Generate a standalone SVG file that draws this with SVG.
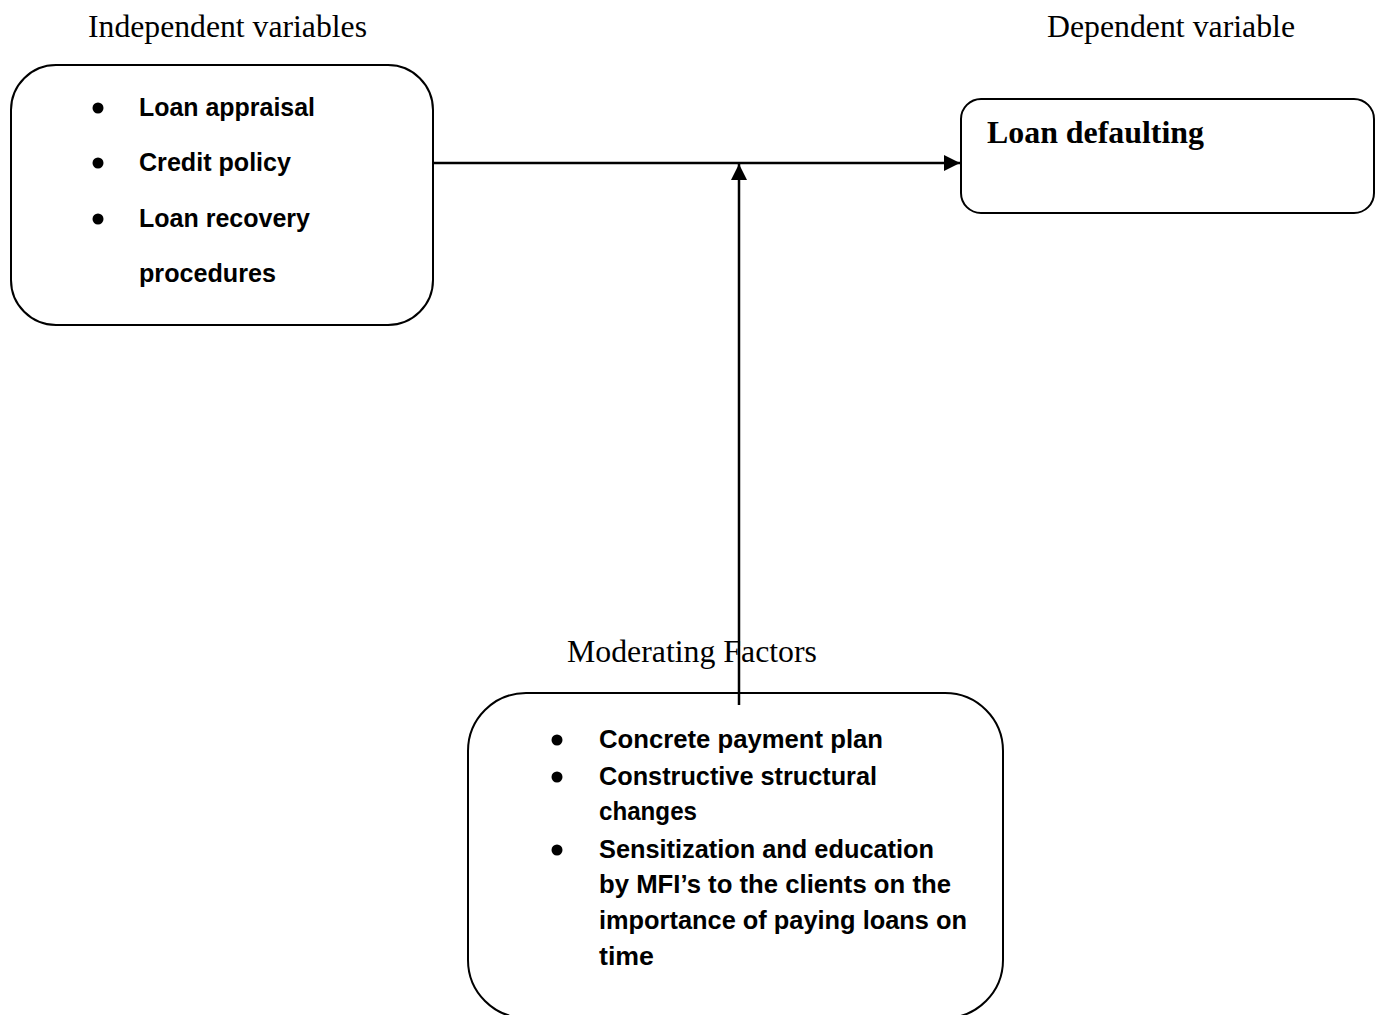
<svg xmlns="http://www.w3.org/2000/svg" width="1375" height="1015" viewBox="0 0 1375 1015">
<style>
.box{fill:#fff;stroke:#000;stroke-width:2}
.title{font-family:"Liberation Serif","Times New Roman",serif;font-size:32px;fill:#000}
.bold-serif{font-family:"Liberation Serif","Times New Roman",serif;font-size:32px;font-weight:bold;fill:#000}
.item{font-family:"Liberation Sans",Arial,sans-serif;font-size:25px;font-weight:bold;fill:#000}
.conn{stroke:#000;stroke-width:2.5;fill:none}
.bul{fill:#000}
</style>
<defs>
<marker id="arrow" viewBox="0 0 10 10" refX="10" refY="5" markerWidth="17" markerHeight="16" markerUnits="userSpaceOnUse" orient="auto">
<path d="M0,0 L10,5 L0,10 Z" fill="#000"/>
</marker>
</defs>
<rect width="1375" height="1015" fill="#fff"/>
<text class="title" x="88" y="37" textLength="279" lengthAdjust="spacingAndGlyphs">Independent variables</text>
<text class="title" x="1047" y="37" textLength="248" lengthAdjust="spacingAndGlyphs">Dependent variable</text>
<g id="independent">
<rect class="box" x="11" y="65" width="422" height="260" rx="45" ry="45"/>
<circle class="bul" cx="98" cy="108" r="5.5"/>
<text class="item" x="139" y="116" textLength="176" lengthAdjust="spacingAndGlyphs">Loan appraisal</text>
<circle class="bul" cx="98" cy="163" r="5.5"/>
<text class="item" x="139" y="171" textLength="152" lengthAdjust="spacingAndGlyphs">Credit policy</text>
<circle class="bul" cx="98" cy="219" r="5.5"/>
<text class="item" x="139" y="227" textLength="171" lengthAdjust="spacingAndGlyphs">Loan recovery</text>
<text class="item" x="139" y="282" textLength="137" lengthAdjust="spacingAndGlyphs">procedures</text>
</g>
<g id="dependent">
<rect class="box" x="961" y="99" width="413" height="114" rx="20" ry="20"/>
<text class="bold-serif" x="987" y="143" textLength="217" lengthAdjust="spacingAndGlyphs">Loan defaulting</text>
</g>
<g id="moderating">
<text class="title" x="567" y="662" textLength="250" lengthAdjust="spacingAndGlyphs">Moderating Factors</text>
<rect class="box" x="468" y="693" width="535" height="325" rx="58" ry="58"/>
<circle class="bul" cx="557" cy="740" r="5.5"/>
<text class="item" x="599" y="748" textLength="284" lengthAdjust="spacingAndGlyphs">Concrete payment plan</text>
<circle class="bul" cx="557" cy="777" r="5.5"/>
<text class="item" x="599" y="785" textLength="278" lengthAdjust="spacingAndGlyphs">Constructive structural</text>
<text class="item" x="599" y="820" textLength="98" lengthAdjust="spacingAndGlyphs">changes</text>
<circle class="bul" cx="557" cy="850" r="5.5"/>
<text class="item" x="599" y="858" textLength="335" lengthAdjust="spacingAndGlyphs">Sensitization and education</text>
<text class="item" x="599" y="893" textLength="352" lengthAdjust="spacingAndGlyphs">by MFI’s to the clients on the</text>
<text class="item" x="599" y="929" textLength="368" lengthAdjust="spacingAndGlyphs">importance of paying loans on</text>
<text class="item" x="599" y="965" textLength="55" lengthAdjust="spacingAndGlyphs">time</text>
</g>
<g id="connectors">
<line class="conn" x1="433" y1="163" x2="960" y2="163" marker-end="url(#arrow)"/>
<line class="conn" x1="739" y1="705" x2="739" y2="164" marker-end="url(#arrow)"/>
</g>
</svg>
